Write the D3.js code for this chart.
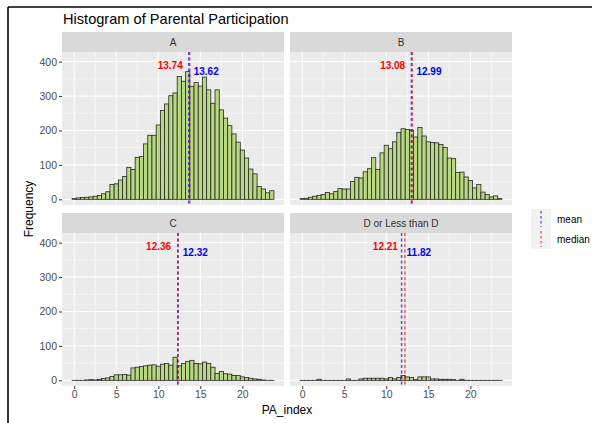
<!DOCTYPE html>
<html lang="en">
<head>
    <meta charset="UTF-8">
    <script src="https://d3js.org/d3.v7.min.js"></script>
    <style>
        body { margin: 0; padding: 0; background: #fff; font-family: "Liberation Sans", Arial, sans-serif; }
        svg { display: block; }
    </style>
</head>
<body>
    <svg id="chart" width="592" height="423"></svg>

    <script>
        // facet labels
        const groups = ["A", "B", "C", "D or Less than D"];

        // bin centres (binwidth 0.5)
        const binCenters = [0, 0.5, 1, 1.5, 2, 2.5, 3, 3.5, 4, 4.5, 5, 5.5, 6, 6.5, 7, 7.5,
            8, 8.5, 9, 9.5, 10, 10.5, 11, 11.5, 12, 12.5, 13, 13.5, 14, 14.5, 15, 15.5,
            16, 16.5, 17, 17.5, 18, 18.5, 19, 19.5, 20, 20.5, 21, 21.5, 22, 22.5, 23, 23.5];

        // counts
        const countsA = [2, 4, 5, 6, 7, 9, 11, 16, 22, 43, 45, 56, 66, 93, 87, 122,
            124, 161, 186, 186, 216, 258, 277, 301, 309, 357, 343, 371, 328, 339, 329, 355,
            318, 279, 318, 260, 236, 214, 190, 166, 143, 120, 88, 74, 37, 30, 19, 25];
        const countsB = [2, 3, 6, 9, 11, 14, 20, 16, 23, 31, 30, 30, 52, 64, 62, 80,
            89, 121, 87, 135, 157, 147, 167, 194, 205, 203, 201, 181, 209, 184, 167, 165,
            164, 159, 151, 120, 118, 78, 79, 65, 55, 33, 43, 21, 14, 7, 10, 2];
        const countsC = [0, 0, 0, 1, 2, 1, 3, 5, 7, 11, 16, 16, 17, 15, 36, 38,
            40, 42, 44, 45, 41, 47, 49, 44, 67, 42, 49, 55, 58, 49, 48, 53,
            49, 38, 20, 26, 19, 18, 14, 14, 10, 8, 6, 4, 3, 1, 0, 0];
        const countsD = [0, 0, 0, 0, 3, 0, 0, 0, 0, 0, 0, 4, 0, 0, 4, 6,
            6, 6, 6, 6, 4, 8, 4, 8, 14, 10, 8, 2, 10, 10, 10, 4,
            4, 3, 3, 3, 2, 0, 3, 0, 0, 0, 0, 0, 0, 0, 0, 0];
        const allCounts = [countsA, countsB, countsC, countsD];

        const means = [13.62, 12.99, 12.32, 11.82];
        const medians = [13.74, 13.08, 12.36, 12.21];

        const xTicks = [0, 5, 10, 15, 20];
        const xMinor = [2.5, 7.5, 12.5, 17.5, 22.5];
        const yTicks = [0, 100, 200, 300, 400];
        const yMinor = [50, 150, 250, 350];

        const svg = d3.select("#chart");
        const pw = 222, ph = 153, stripH = 20;
        const colX = [62, 290], rowY = [52, 233];

        const x = d3.scaleLinear().domain([-1.45, 24.95]).range([0, pw]);
        const y = d3.scaleLinear().domain([-16.5, 428]).range([ph, 0]);

        // document frame lines
        svg.append("line").attr("x1", 8).attr("x2", 592).attr("y1", 7).attr("y2", 7)
            .attr("stroke", "#000").attr("stroke-width", 1.6);
        svg.append("line").attr("x1", 8).attr("x2", 8).attr("y1", 7).attr("y2", 423)
            .attr("stroke", "#000").attr("stroke-width", 1.6);

        svg.append("text")
            .attr("x", 63).attr("y", 24)
            .style("font-size", "14.6px")
            .attr("fill", "#000")
            .text("Histogram of Parental Participation");

        groups.forEach((g, i) => {
            const col = i % 2, row = Math.floor(i / 2);
            const px = colX[col], py = rowY[row];

            // strip
            svg.append("rect")
                .attr("x", px).attr("y", py - stripH)
                .attr("width", pw).attr("height", stripH)
                .attr("fill", "#d9d9d9");
            svg.append("text")
                .attr("x", px + pw / 2).attr("y", py - stripH / 2)
                .attr("dy", "0.35em")
                .attr("text-anchor", "middle")
                .attr("fill", "#333")
                .style("font-size", "10px")
                .text(g);

            const panel = svg.append("g").attr("transform", `translate(${px},${py})`);
            panel.append("rect").attr("width", pw).attr("height", ph).attr("fill", "#ebebeb");

            // grid
            panel.selectAll(".gxm").data(xMinor).enter().append("line")
                .attr("x1", d => x(d)).attr("x2", d => x(d)).attr("y1", 0).attr("y2", ph)
                .attr("stroke", "#fff").attr("stroke-width", 0.5);
            panel.selectAll(".gym").data(yMinor).enter().append("line")
                .attr("x1", 0).attr("x2", pw).attr("y1", d => y(d)).attr("y2", d => y(d))
                .attr("stroke", "#fff").attr("stroke-width", 0.5);
            panel.selectAll(".gx").data(xTicks).enter().append("line")
                .attr("x1", d => x(d)).attr("x2", d => x(d)).attr("y1", 0).attr("y2", ph)
                .attr("stroke", "#fff").attr("stroke-width", 1);
            panel.selectAll(".gy").data(yTicks).enter().append("line")
                .attr("x1", 0).attr("x2", pw).attr("y1", d => y(d)).attr("y2", d => y(d))
                .attr("stroke", "#fff").attr("stroke-width", 1);

            // bars
            const counts = allCounts[i];
            panel.selectAll(".bar")
                .data(binCenters.map((c, k) => ({ c, n: counts[k] })))
                .enter()
                .append("rect")
                .attr("x", d => x(d.c - 0.25))
                .attr("width", d => x(d.c + 0.25) - x(d.c - 0.25))
                .attr("y", d => y(d.n))
                .attr("height", d => Math.max(y(0) - y(d.n), 0.01))
                .attr("fill", "#b8d982")
                .attr("stroke", "#262626")
                .attr("stroke-width", 0.8);

            // median / mean lines
            panel.append("line")
                .attr("x1", x(medians[i])).attr("x2", x(medians[i]))
                .attr("y1", 0).attr("y2", ph)
                .attr("stroke", "#ff0000").attr("stroke-opacity", 0.65)
                .attr("stroke-width", 1.5).attr("stroke-dasharray", "3,2.5");
            panel.append("line")
                .attr("x1", x(means[i])).attr("x2", x(means[i]))
                .attr("y1", 0).attr("y2", ph)
                .attr("stroke", "#0000ff").attr("stroke-opacity", 0.65)
                .attr("stroke-width", 1.5).attr("stroke-dasharray", "3,2.5");

            panel.append("text")
                .attr("x", x(medians[i]) - 7).attr("y", y(390))
                .attr("dy", "0.35em").attr("text-anchor", "end")
                .attr("fill", "#ff0000").style("font-size", "10px").style("font-weight", "bold")
                .text(medians[i].toFixed(2));
            panel.append("text")
                .attr("x", x(means[i]) + 5).attr("y", y(372))
                .attr("dy", "0.35em").attr("text-anchor", "start")
                .attr("fill", "#0000ff").style("font-size", "10px").style("font-weight", "bold")
                .text(means[i].toFixed(2));

            // axes
            if (col === 0) {
                const ya = panel.append("g")
                    .call(d3.axisLeft(y).tickValues(yTicks).tickSize(3).tickPadding(2));
                ya.select(".domain").remove();
                ya.selectAll("line").attr("stroke", "#333");
                ya.selectAll("text").attr("fill", "#4d4d4d").style("font-size", "10.5px")
                    .style("font-family", "Liberation Sans, Arial, sans-serif");
            }
            if (row === 1) {
                const xa = panel.append("g")
                    .attr("transform", `translate(0,${ph})`)
                    .call(d3.axisBottom(x).tickValues(xTicks).tickSize(3).tickPadding(2));
                xa.select(".domain").remove();
                xa.selectAll("line").attr("stroke", "#333");
                xa.selectAll("text").attr("fill", "#4d4d4d").style("font-size", "10.5px")
                    .style("font-family", "Liberation Sans, Arial, sans-serif");
            }
        });

        // axis titles
        svg.append("text")
            .attr("transform", "translate(33,209) rotate(-90)")
            .attr("text-anchor", "middle")
            .style("font-size", "12px")
            .text("Frequency");
        svg.append("text")
            .attr("x", 287).attr("y", 414)
            .attr("text-anchor", "middle")
            .style("font-size", "12px")
            .text("PA_index");

        // legend
        const legendItems = [
            { label: "mean", color: "#0000ff" },
            { label: "median", color: "#ff0000" }
        ];
        const lg = svg.append("g").attr("transform", "translate(531,209)");
        legendItems.forEach((d, k) => {
            lg.append("rect").attr("x", 0).attr("y", k * 20)
                .attr("width", 20).attr("height", 20).attr("fill", "#f2f2f2");
            lg.append("line").attr("x1", 10).attr("x2", 10)
                .attr("y1", k * 20 + 2).attr("y2", k * 20 + 18)
                .attr("stroke", d.color).attr("stroke-opacity", 0.6)
                .attr("stroke-width", 1.5).attr("stroke-dasharray", "2.5,2.5");
            lg.append("text").attr("x", 26).attr("y", k * 20 + 10)
                .attr("dy", "0.35em")
                .style("font-size", "10px")
                .text(d.label);
        });
    </script>
</body>
</html>
